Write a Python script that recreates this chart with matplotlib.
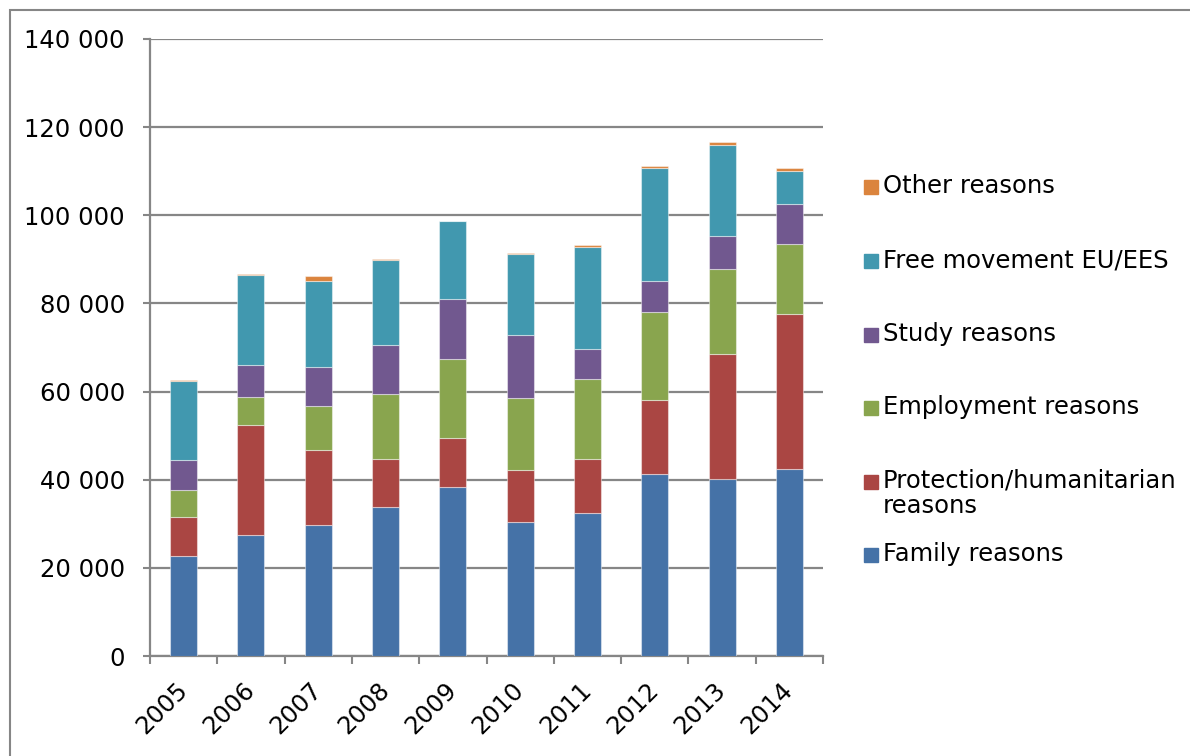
import matplotlib
matplotlib.use("Agg")
import matplotlib.pyplot as plt
from matplotlib.patches import Rectangle
from matplotlib.ticker import FuncFormatter

years = ["2005", "2006", "2007", "2008", "2009", "2010", "2011", "2012", "2013", "2014"]

# residence permits by reason (persons)
family = [22800, 27400, 29700, 33700, 38400, 30300, 32500, 41200, 40100, 42500]
protection = [8800, 25000, 17100, 11100, 11100, 11900, 12300, 16900, 28400, 35000]
employment = [6000, 6400, 9900, 14600, 17900, 16300, 18100, 20000, 19200, 15900]
study = [6800, 7200, 8900, 11100, 13500, 14300, 6700, 7100, 7700, 9200]
free_movement = [18100, 20500, 19400, 19400, 17700, 18400, 23300, 25500, 20600, 7400]
other = [100, 100, 1200, 200, 100, 300, 400, 400, 600, 700]

labels = ["Family reasons", "Protection/humanitarian\nreasons", "Employment reasons",
          "Study reasons", "Free movement EU/EES", "Other reasons"]
colors = ["#4572A7", "#AA4643", "#89A54E", "#71588F", "#4198AF", "#DB843D"]
series = [family, protection, employment, study, free_movement, other]

plt.rcParams["font.family"] = "DejaVu Sans"
GREY = "#868686"

fig = plt.figure(figsize=(11.9, 7.56), dpi=100)
ax = fig.add_axes([150 / 1190, 1 - 656 / 756, 673 / 1190, 617 / 756])

x = list(range(len(years)))
bottom = [0] * len(years)
for vals, color in zip(series, colors):
    ax.bar(x, vals, width=0.4, bottom=bottom, color=color,
           edgecolor=(1, 1, 1, 0.45), linewidth=0.8, zorder=3)
    bottom = [b + v for b, v in zip(bottom, vals)]

ax.set_xlim(-0.5, len(years) - 0.5)
ax.set_ylim(0, 140000)
ax.set_yticks(range(0, 140001, 20000))
ax.yaxis.set_major_formatter(FuncFormatter(lambda v, _: f"{int(v):,}".replace(",", " ")))
ax.grid(axis="y", color=GREY, linewidth=1.6, zorder=0)

ax.set_xticks(x)
ax.set_xticklabels(years, rotation=45, ha="right", va="center", rotation_mode="anchor")
ax.set_xticks([i - 0.5 for i in range(len(years) + 1)], minor=True)
ax.tick_params(axis="x", which="major", length=0, pad=22, labelsize=17.5)
ax.tick_params(axis="x", which="minor", length=6, width=1.5, color=GREY)
ax.tick_params(axis="y", length=5, width=1.5, color=GREY, pad=13, labelsize=17.5)

for side in ("top", "right"):
    ax.spines[side].set_visible(False)
for side in ("left", "bottom"):
    ax.spines[side].set_color(GREY)
    ax.spines[side].set_linewidth(1.6)

# legend drawn by hand, top entry first
W, H = 1190, 756
rows_y = [555, 482, 408, 335, 261, 187]
for lab, color, y in zip(labels, colors, rows_y):
    fig.patches.append(Rectangle((864 / W, 1 - (y + 7) / H), 14 / W, 14 / H,
                                 transform=fig.transFigure, color=color))
    fig.text(883 / W, 1 - (y - 13) / H, lab, fontsize=17.5, va="top", ha="left",
             linespacing=1.05)

# chart area frame
fig.patches.append(Rectangle((10 / W, -0.1), 1.2, 1.1 - 10 / H, transform=fig.transFigure,
                             fill=False, edgecolor=GREY, linewidth=1.5))

fig.savefig("out.png", dpi=100)
